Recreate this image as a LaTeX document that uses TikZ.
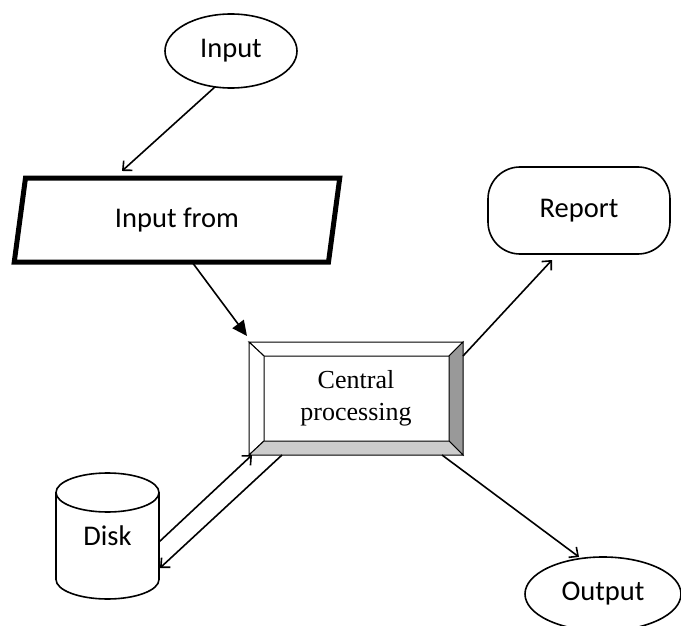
\documentclass[tikz,border=0pt]{standalone}
\usepackage{fontspec}
\setmainfont{Carlito}
\newfontfamily\serifface{Liberation Serif}
\usetikzlibrary{shapes.geometric,arrows.meta}
\begin{document}
\begin{tikzpicture}[x=1pt,y=-1pt,
  every node/.style={font=\fontsize{28.5}{34}\selectfont, inner sep=0pt, outer sep=0pt},
  line/.style={line width=1.6pt},
  flow/.style={line, -{Straight Barb[length=7pt,width=13pt]}},
  bigflow/.style={line, -{Triangle[length=15pt,width=14pt]}},
  oval/.style={ellipse, draw, line width=1.6pt},
  bevel/.style={draw, line width=1pt, line join=miter}]
\useasboundingbox (0,0) rectangle (681,626);

% shapes
\node[oval, minimum width=132pt, minimum height=74pt] (inp) at (231,51) {Input};
\node[trapezium, draw, line width=5pt, trapezium left angle=79.2, trapezium right angle=100.8,
      trapezium stretches=true, minimum width=326pt, minimum height=84pt] (form) at (177,220) {Input from};
\node[rectangle, draw, line width=1.6pt, rounded corners=32pt, minimum width=182pt, minimum height=87pt] (rep) at (579,210.5) {Report};
\node[oval, minimum width=156pt, minimum height=74pt] (out) at (603,594) {Output};
\node[minimum width=103pt, minimum height=126pt] (disk) at (107.5,536) {Disk};
\node[minimum width=214pt, minimum height=113pt, align=center,
      font=\serifface\fontsize{26}{32}\selectfont] (cpu) at (356,398.5) {Central\\processing};

% bevelled frame of the processing box
\coordinate (inw) at ([xshift=15pt,yshift=-14pt]cpu.north west);
\coordinate (ine) at ([xshift=-14pt,yshift=-14pt]cpu.north east);
\coordinate (ise) at ([xshift=-14pt,yshift=14pt]cpu.south east);
\coordinate (isw) at ([xshift=15pt,yshift=14pt]cpu.south west);
\path[bevel, fill=white] (cpu.north west) -- (cpu.north east) -- (ine) -- (inw) -- cycle;
\path[bevel, fill=white] (cpu.north west) -- (inw) -- (isw) -- (cpu.south west) -- cycle;
\path[bevel, fill=black!40] (cpu.north east) -- (cpu.south east) -- (ise) -- (ine) -- cycle;
\path[bevel, fill=black!20] (cpu.south west) -- (isw) -- (ise) -- (cpu.south east) -- cycle;

% disk cylinder
\draw[line] ([yshift=-19.5pt]disk.north west) -- ([yshift=19.5pt]disk.south west)
  arc[start angle=180, end angle=360, x radius=51.5pt, y radius=19.5pt]
  -- ([yshift=-19.5pt]disk.north east);
\draw[line] ([yshift=-19.5pt]disk.north) ellipse[x radius=51.5pt, y radius=19.5pt];

% connectors
\draw[flow] (inp.-114) -- ([xshift=-55pt,yshift=7pt]form.north);
\draw[bigflow] ([xshift=15pt]form.south) -- ([xshift=-2pt,yshift=6pt]cpu.north west);
\draw[flow] ([yshift=-14pt]cpu.north east) -- ([xshift=-27pt,yshift=-6pt]rep.south);
\draw[flow] ([yshift=-6pt]disk.east) -- ([xshift=3pt]cpu.south west);
\draw[flow] ([xshift=33pt]cpu.south west) -- ([xshift=1pt,yshift=-32pt]disk.east);
\draw[flow] ([xshift=-21pt]cpu.south east) -- ([xshift=-24pt]out.north);
\end{tikzpicture}
\end{document}
